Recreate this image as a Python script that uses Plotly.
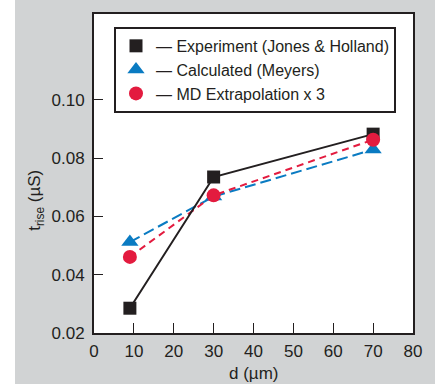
import plotly.graph_objects as go

d_um = [9, 30, 70]
experiment = [0.0285, 0.0735, 0.0882]
calculated = [0.0512, 0.0668, 0.0829]
md_extrap = [0.0461, 0.0672, 0.0863]
x_ticks = [0, 10, 20, 30, 40, 50, 60, 70, 80]
y_ticks = [0.02, 0.04, 0.06, 0.08, 0.10]
legend_names = ["— Experiment (Jones & Holland)", "— Calculated (Meyers)", "— MD Extrapolation x 3"]

BLACK = "#231f20"
BLUE = "#0a7bc2"
RED = "#e31b3f"
GRAY = "#d1d3d4"
FONT = "Liberation Sans, Arial, Helvetica, sans-serif"

fig = go.Figure()
# lines
fig.add_trace(go.Scatter(x=d_um, y=calculated, mode="lines", line=dict(color=BLUE, width=2, dash="11px,5px"), showlegend=False))
fig.add_trace(go.Scatter(x=d_um, y=md_extrap, mode="lines", line=dict(color=RED, width=2, dash="7px,5px"), showlegend=False))
fig.add_trace(go.Scatter(x=d_um, y=experiment, mode="lines", line=dict(color=BLACK, width=2), showlegend=False))
# markers
fig.add_trace(go.Scatter(x=d_um, y=experiment, mode="markers", name=legend_names[0],
                         marker=dict(symbol="square", size=13, color=BLACK)))
fig.add_trace(go.Scatter(x=d_um, y=calculated, mode="markers", name=legend_names[1],
                         marker=dict(symbol="triangle-up", size=15, color=BLUE)))
fig.add_trace(go.Scatter(x=d_um, y=md_extrap, mode="markers", name=legend_names[2],
                         marker=dict(symbol="circle", size=14, color=RED)))

L, R, T, B = 94, 22, 12, 51
W, H = 435, 384
pw, ph = W - L - R, H - T - B

def px(x):
    return (x - L) / pw

def py(y):
    return (H - B - y) / ph

fig.update_layout(
    width=W, height=H,
    margin=dict(l=L, r=R, t=T, b=B, pad=0),
    paper_bgcolor=GRAY, plot_bgcolor="white",
    font=dict(family=FONT, size=17, color=BLACK),
    showlegend=True,
    legend=dict(x=px(114), y=py(25), xanchor="left", yanchor="top",
                bgcolor="white", bordercolor=BLACK, borderwidth=2,
                font=dict(size=16, family=FONT, color=BLACK),
                tracegroupgap=0, itemwidth=30),
    xaxis=dict(range=[0, 80], tickvals=x_ticks, ticks="inside", ticklen=10, tickwidth=1,
               tickcolor=BLACK, showline=True, linecolor=BLACK, linewidth=2, mirror=True,
               showgrid=False, zeroline=False, tickfont=dict(size=17), ticklabelstandoff=2),
    yaxis=dict(range=[0.02, 0.1294], tickvals=y_ticks, tickformat=".2f", ticks="inside",
               ticklen=9, tickwidth=1, tickcolor=BLACK, showline=True, linecolor=BLACK,
               linewidth=2, mirror=True, showgrid=False, zeroline=False,
               tickfont=dict(size=17), ticklabelstandoff=4),
    shapes=[dict(type="rect", xref="paper", yref="paper", x0=px(-5), x1=px(15),
                 y0=py(H + 5), y1=py(-5), fillcolor="white", line=dict(width=0), layer="below")],
    annotations=[
        dict(text="d (µm)", xref="paper", yref="paper", x=0.5, y=py(374),
             xanchor="center", yanchor="middle", showarrow=False, font=dict(size=17)),
        dict(text="t<sub>rise</sub> (µS)", xref="paper", yref="paper", x=px(36), y=py(200),
             xanchor="center", yanchor="middle", textangle=-90, showarrow=False, font=dict(size=17)),
    ],
)

fig.write_html("out.html", config={"displayModeBar": False},
               post_script="document.body.style.margin='0';document.body.style.overflow='hidden';")
